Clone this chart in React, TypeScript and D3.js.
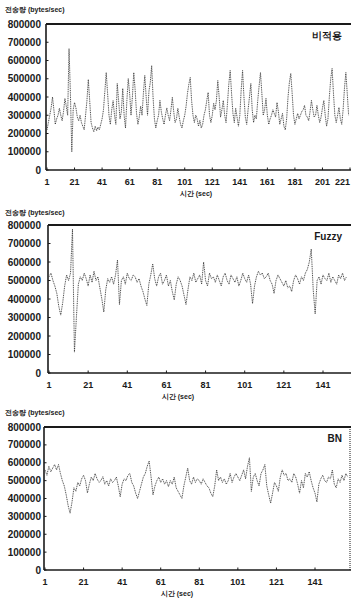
import * as d3 from "d3";

// transfer rate, thousands of bytes/sec, one value per second
const rateNone = [
  220, 260, 300, 340, 400, 330, 250, 280, 300, 338,
  300, 270, 320, 392, 350, 300, 665, 420, 100, 330,
  370, 340, 290, 270, 300, 260, 240, 220, 300, 380,
  496, 380, 260, 230, 210, 240, 215, 235, 220, 250,
  280, 330, 430, 534, 420, 300, 250, 330, 380, 300,
  250, 474, 380, 280, 320, 447, 300, 230, 380, 501,
  420, 300, 400, 534, 440, 310, 250, 290, 350, 300,
  420, 518, 400, 300, 430, 480, 572, 400, 280, 230,
  270, 300, 381, 320, 280, 250, 300, 340, 300, 270,
  330, 398, 320, 260, 280, 338, 290, 250, 230, 270,
  300, 350, 420, 470, 507, 380, 300, 260, 300, 280,
  240, 272, 230, 250, 300, 330, 380, 425, 300, 260,
  300, 365, 330, 380, 490, 400, 290, 330, 381, 300,
  260, 360, 470, 545, 420, 310, 260, 338, 290, 240,
  300, 440, 545, 400, 290, 250, 330, 400, 474, 330,
  260, 300, 280, 380, 460, 534, 420, 300, 330, 392,
  300, 250, 280, 300, 330, 310, 290, 370, 320, 250,
  280, 310, 240, 220, 280, 400, 480, 529, 420, 300,
  250, 280, 310, 280, 300, 320, 330, 354, 300, 290,
  270, 320, 381, 330, 290, 300, 354, 300, 260, 290,
  340, 381, 300, 240, 280, 400, 500, 556, 420, 300,
  260, 300, 343, 280, 250, 330, 450, 534, 420, 300,
];

const rateFuzzy = [
  520, 540, 500, 470, 430, 360, 313, 380, 470, 530,
  500, 540, 778, 113, 300, 480, 520, 500, 540, 510,
  470, 530, 490, 550, 500, 520, 460, 400, 330, 450,
  510, 490, 520, 480, 530, 611, 370, 500, 520, 480,
  540, 510, 500, 530, 520, 490, 510, 470, 440, 400,
  365, 480, 530, 590, 510, 470, 520, 540, 480, 500,
  530, 470, 500, 440, 395, 480, 520, 500, 470, 420,
  370, 450, 520, 500, 540, 490, 510, 530, 480, 600,
  500, 470, 540, 510, 520, 490, 530, 500, 470, 520,
  540, 500, 480, 530, 510, 490, 520, 470, 500, 540,
  510, 490, 530, 480, 375, 470, 520, 550, 530, 540,
  510, 520, 540, 500, 480, 430, 500, 530, 510, 490,
  470, 500, 460, 470, 440, 500, 530, 510, 480, 520,
  500, 540, 560, 600, 670, 450, 319, 500, 520, 480,
  530, 510, 500, 540, 490, 520, 500, 480, 530, 510,
  540, 500, 520,
];

const rateBN = [
  560, 530, 580, 550, 570, 590, 560, 590, 540, 500,
  470, 420, 360, 318, 380, 460, 440, 490, 470, 510,
  530, 500, 431, 480, 520, 500, 540, 510, 490, 500,
  522, 480, 500, 470, 510, 490, 500, 520, 470, 410,
  480, 510, 500, 530, 540, 490, 470, 430, 400, 440,
  480, 520, 540, 580, 610, 520, 420, 470, 500, 520,
  490, 510, 480, 500, 466, 500, 480, 520, 460, 440,
  420, 400, 470, 520, 570, 500, 480, 520, 490, 510,
  500, 480, 510, 490, 470, 460, 430, 410, 470, 560,
  500, 520, 490, 510, 480, 500, 540, 490, 520, 540,
  520, 500, 530, 560, 510, 580, 628, 440, 520, 540,
  500, 470, 540, 560, 590, 470, 420, 374, 430, 490,
  470, 440, 520, 560, 530, 540, 500, 510, 490, 540,
  520, 480, 430, 500, 460, 540, 520, 550, 500, 460,
  430, 381, 480, 510, 530, 500, 490, 520, 510, 560,
  480, 460, 510, 490, 530, 500, 540, 520,
];

const yTicks = [0, 100, 200, 300, 400, 500, 600, 700, 800];
const yTickLabels = ["0", "100000", "200000", "300000", "400000", "500000", "600000", "700000", "800000"];
const xTicksLong = [1, 21, 41, 61, 81, 101, 121, 141, 161, 181, 201, 221];
const xTicksShort = [1, 21, 41, 61, 81, 101, 121, 141];

const yTitle = "전송량 (bytes/sec)";
const xTitle = "시간 (sec)";
const panelNames = ["비적용", "Fuzzy", "BN"];

const FONT = "'Liberation Sans', Arial, sans-serif";
const INK = "#1a1a1a";

type PanelProps = {
  values: number[];
  xTicks: number[];
  name: string;
  titleY: number;
  top: number;
  bottom: number;
  x0: number;
  xAt: number; // pixel of last tick
  lastTick: number;
  xTitleX: number;
  rightBorder?: boolean;
};

const Panel = ({ values, xTicks, name, titleY, top, bottom, x0, xAt, lastTick, xTitleX, rightBorder }: PanelProps) => {
  const x = d3.scaleLinear().domain([1, lastTick]).range([x0, xAt]);
  const y = d3.scaleLinear().domain([0, 800]).range([bottom, top]);
  const line = d3.line<number>().x((_, i) => x(i + 1)).y((d) => y(d));
  const left = x0 - 1;
  return (
    <g>
      <text x={5} y={titleY} fontSize={7} fontWeight="bold" fill={INK} fontFamily={FONT}>{yTitle}</text>
      {yTicks.map((t, i) => (
        <g key={t}>
          <text x={41} y={y(t) + 3.5} fontSize={10} fontWeight="bold" textAnchor="end" fill={INK} fontFamily={FONT}>
            {yTickLabels[i]}
          </text>
          <line x1={left} x2={left + 2.5} y1={y(t)} y2={y(t)} stroke={INK} strokeWidth={1} />
        </g>
      ))}
      {xTicks.map((t) => {
        const tx = x(t);
        const nearEdge = tx > 340;
        return (
          <g key={t}>
            <text x={nearEdge ? 350 : tx} y={bottom + 15} fontSize={9} fontWeight="bold"
              textAnchor={nearEdge ? "end" : "middle"} fill={INK} fontFamily={FONT}>
              {t}
            </text>
            <line x1={tx} x2={tx} y1={bottom} y2={bottom - 2.5} stroke={INK} strokeWidth={1} />
          </g>
        );
      })}
      <text x={xTitleX} y={bottom + 26} fontSize={7} fontWeight="bold" textAnchor="middle" fill={INK} fontFamily={FONT}>{xTitle}</text>
      <line x1={left} x2={351} y1={top} y2={top} stroke={INK} strokeWidth={2} />
      <line x1={left} x2={left} y1={top} y2={bottom} stroke={INK} strokeWidth={1.6} />
      <line x1={left} x2={351} y1={bottom} y2={bottom} stroke={INK} strokeWidth={1.4} />
      {rightBorder && (
        <line x1={350} x2={350} y1={top} y2={bottom} stroke={INK} strokeWidth={1} strokeDasharray="1 1" />
      )}
      <path d={line(values) ?? ""} fill="none" stroke="#333" strokeWidth={0.9} strokeDasharray="1 0.8" />
      <text x={342} y={top + 15} fontSize={10} fontWeight="bold" textAnchor="end" fill={INK} fontFamily={FONT}>{name}</text>
    </g>
  );
};

export default function App() {
  return (
    <svg width={351} height={600} viewBox="0 0 351 600" style={{ position: "absolute", left: 0, top: 0, background: "#fff" }}>
      <Panel values={rateNone} xTicks={xTicksLong} name={panelNames[0]} titleY={12} top={24} bottom={170}
        x0={47} xAt={350} lastTick={221} xTitleX={196} />
      <Panel values={rateFuzzy} xTicks={xTicksShort} name={panelNames[1]} titleY={215} top={225} bottom={373}
        x0={49} xAt={323} lastTick={141} xTitleX={178} />
      <Panel values={rateBN} xTicks={xTicksShort} name={panelNames[2]} titleY={415} top={427} bottom={570}
        x0={45} xAt={315} lastTick={141} xTitleX={177} rightBorder />
    </svg>
  );
}
